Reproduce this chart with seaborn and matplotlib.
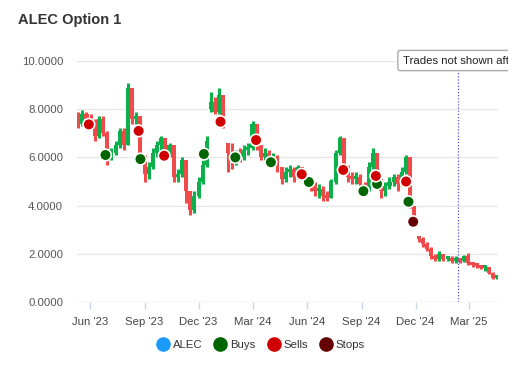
import pandas as pd
import seaborn as sns
import matplotlib.pyplot as plt
from matplotlib.lines import Line2D
from matplotlib.patches import Rectangle

# Weekly OHLC
week_start = '2023-05-12'
opens = [7.7, 7.4, 7.8, 7.6, 7.4, 6.9, 7.6, 7.0, 6.0, 6.2,
         6.5, 7.1, 6.5, 8.9, 7.6, 7.7, 6.1, 5.3, 5.6, 6.2,
         6.5, 6.8, 6.1, 6.5, 5.2, 5.3, 5.9, 4.6, 3.8, 4.4,
         5.0, 5.7, 8.0, 8.3, 7.9, 8.6, 6.6, 6.2, 5.8, 6.1,
         6.0, 6.3, 6.4, 7.4, 6.5, 6.0, 6.2, 5.9, 6.0, 5.6,
         5.1, 5.4, 5.5, 5.2, 5.6, 5.3, 5.0, 4.9, 4.6, 4.7,
         4.4, 4.3, 5.0, 6.2, 6.8, 5.6, 5.2, 5.1, 5.2, 4.9,
         4.7, 5.6, 6.2, 5.1, 4.6, 4.8, 5.0, 5.2, 4.9, 5.4,
         6.0, 4.0, 2.75, 2.6, 2.4, 2.2, 1.9, 1.8, 2.0, 1.8,
         1.8, 1.7, 1.8, 1.7, 1.9, 1.6, 1.55, 1.5, 1.4, 1.45,
         1.2, 1.0]
closes = [7.4, 7.8, 7.6, 7.4, 6.9, 7.6, 7.0, 6.0, 6.2, 6.5,
          7.1, 6.5, 8.9, 7.6, 7.7, 6.1, 5.3, 5.6, 6.2, 6.5,
          6.8, 6.1, 6.5, 5.2, 5.3, 5.9, 4.6, 3.8, 4.4, 5.0,
          5.7, 6.7, 8.3, 7.9, 8.6, 7.4, 6.2, 5.8, 6.1, 6.0,
          6.3, 6.4, 7.4, 6.5, 6.0, 6.2, 5.9, 6.0, 5.6, 5.1,
          5.4, 5.5, 5.2, 5.6, 5.3, 5.0, 4.9, 4.6, 4.7, 4.4,
          4.3, 5.0, 6.2, 6.8, 5.6, 5.2, 5.1, 5.2, 4.9, 4.7,
          5.6, 6.2, 5.1, 4.6, 4.8, 5.0, 5.2, 4.9, 5.4, 6.0,
          4.0, 3.6, 2.6, 2.4, 2.2, 1.9, 1.8, 2.0, 1.8, 1.8,
          1.7, 1.8, 1.7, 1.9, 1.6, 1.55, 1.5, 1.4, 1.45, 1.2,
          1.0, 1.05]
highs = [7.9, 7.95, 7.9, 7.8, 7.6, 7.7, 7.7, 7.1, 6.4, 6.7,
         7.2, 7.2, 9.1, 8.9, 7.9, 7.7, 6.1, 5.8, 6.4, 6.7,
         6.9, 6.8, 6.6, 6.5, 5.5, 6.0, 5.9, 4.6, 4.6, 5.2,
         5.9, 6.9, 8.7, 8.5, 8.9, 8.6, 6.6, 6.6, 6.3, 6.4,
         6.5, 6.6, 7.5, 7.4, 6.5, 6.4, 6.3, 6.2, 6.1, 5.6,
         5.6, 5.7, 5.6, 5.7, 5.6, 5.3, 5.1, 5.0, 4.9, 4.8,
         4.6, 5.1, 6.3, 6.9, 6.8, 5.7, 5.4, 5.4, 5.3, 5.0,
         5.8, 6.4, 6.2, 5.1, 5.0, 5.2, 5.3, 5.3, 5.6, 6.1,
         6.0, 4.0, 2.75, 2.7, 2.5, 2.3, 2.0, 2.1, 2.0, 1.9,
         1.9, 1.9, 1.8, 1.95, 2.05, 1.65, 1.6, 1.55, 1.5, 1.45,
         1.25, 1.1]
lows = [7.2, 7.3, 7.4, 7.2, 6.7, 6.8, 6.9, 5.7, 5.9, 6.1,
        6.4, 6.3, 6.5, 7.4, 7.4, 5.9, 5.0, 5.1, 5.5, 6.0,
        6.3, 6.0, 6.0, 5.0, 5.0, 5.2, 4.1, 3.6, 3.7, 4.3,
        4.9, 5.6, 7.9, 7.8, 7.8, 7.2, 5.4, 5.5, 5.7, 5.8,
        5.9, 6.1, 6.3, 6.3, 5.9, 5.9, 5.8, 5.8, 5.4, 4.9,
        5.0, 5.2, 5.0, 5.1, 5.1, 4.8, 4.6, 4.4, 4.3, 4.2,
        4.2, 4.3, 4.9, 6.1, 5.4, 5.0, 4.9, 4.9, 4.7, 4.5,
        4.6, 5.5, 4.9, 4.3, 4.4, 4.7, 4.8, 4.6, 4.8, 5.3,
        3.9, 3.5, 2.5, 2.3, 2.1, 1.8, 1.7, 1.7, 1.7, 1.7,
        1.6, 1.6, 1.6, 1.65, 1.55, 1.45, 1.4, 1.35, 1.3, 1.15,
        0.95, 0.95]

# Trades
buy_dates = ['2023-06-27', '2023-08-25', '2023-12-10', '2024-02-01', '2024-04-01',
             '2024-06-04', '2024-09-04', '2024-09-27', '2024-11-19']
buy_prices = [6.10, 5.93, 6.14, 6.00, 5.80, 4.98, 4.60, 4.90, 4.16]
sell_dates = ['2023-05-30', '2023-08-22', '2023-10-04', '2024-01-07', '2024-03-07',
              '2024-05-23', '2024-08-01', '2024-09-25', '2024-11-15']
sell_prices = [7.37, 7.10, 6.07, 7.48, 6.72, 5.30, 5.48, 5.23, 5.00]
stop_dates = ['2024-11-27']
stop_prices = [3.33]

cutoff_date = '2025-02-10'
tick_dates = ['2023-06-01', '2023-09-01', '2023-12-01', '2024-03-01',
              '2024-06-01', '2024-09-01', '2024-12-01', '2025-03-01']
tick_labels = ["Jun '23", "Sep '23", "Dec '23", "Mar '24",
               "Jun '24", "Sep '24", "Dec '24", "Mar '25"]
y_ticks = [0, 2, 4, 6, 8, 10]

sns.set_theme(style='white')
plt.rcParams['font.family'] = ['Liberation Sans', 'DejaVu Sans']

candles = pd.DataFrame({
    'date': pd.date_range(week_start, periods=len(closes), freq='7D'),
    'open': opens, 'close': closes, 'high': highs, 'low': lows,
})
candles['color'] = ['#0cb04a' if c >= o else '#ef4b4b' for o, c in zip(opens, closes)]
candles['bottom'] = candles[['open', 'close']].min(axis=1)
candles['height'] = (candles['close'] - candles['open']).abs().clip(lower=0.12)

trades = pd.concat([
    pd.DataFrame({'date': pd.to_datetime(buy_dates), 'price': buy_prices, 'kind': 'Buys'}),
    pd.DataFrame({'date': pd.to_datetime(sell_dates), 'price': sell_prices, 'kind': 'Sells'}),
    pd.DataFrame({'date': pd.to_datetime(stop_dates), 'price': stop_prices, 'kind': 'Stops'}),
])
colors = {'ALEC': '#1a9bfc', 'Buys': '#006400', 'Sells': '#d00000', 'Stops': '#660000'}

fig = plt.figure(figsize=(5.3, 3.8), dpi=100)
ax = fig.add_axes([77 / 530, 1 - 302 / 380, 421 / 530, 241 / 380])

for spine in ax.spines.values():
    spine.set_visible(False)
ax.axhline(0, color='#ccd6eb', lw=1, zorder=1)
for v in y_ticks[1:]:
    ax.axhline(v, color='#e6e6e6', lw=1, zorder=0)

# candles: thick wicks + bodies so the band looks as dense as the original
ax.vlines(candles['date'], candles['low'], candles['high'], colors=candles['color'],
          lw=2.2, zorder=2)
ax.bar(candles['date'], candles['height'], bottom=candles['bottom'], width=6.8,
       color=candles['color'], linewidth=0, zorder=2)

sns.scatterplot(data=trades, x='date', y='price', hue='kind', palette=colors,
                s=70, edgecolor='white', linewidth=1.2, ax=ax, legend=False, zorder=4)

cut = pd.Timestamp(cutoff_date)
ax.axvline(cut, ymin=0, ymax=(302 - 70) / 241, color='#5555cc', lw=0.9,
           linestyle=(0, (1, 1.5)), zorder=3)

# label box, clipped at the chart container's right edge like the reference
clip_box = Rectangle((0, 0), 508 / 530, 1, transform=fig.transFigure, visible=False)
fig.add_artist(clip_box)
note = fig.text(403 / 530, 1 - 60.5 / 380, 'Trades not shown after 2025-02-10',
                fontsize=8.2, color='#222222', va='center', ha='left',
                bbox=dict(boxstyle='round,pad=0.45,rounding_size=0.2', fc='white',
                          ec='#aaaaaa', lw=1))
note.set_clip_path(clip_box)
note.get_bbox_patch().set_clip_path(clip_box)

ax.set_xlim(pd.Timestamp('2023-05-10'), pd.Timestamp('2025-04-19'))
ax.set_ylim(0, 10)
ax.set_xticks(pd.to_datetime(tick_dates))
ax.set_xticklabels(tick_labels)
ax.set_yticks(y_ticks)
ax.set_yticklabels([f'{v:.4f}' for v in y_ticks])
ax.tick_params(axis='y', length=0, pad=10, labelsize=8.2, labelcolor='#555555')
ax.tick_params(axis='x', length=5, width=1, color='#ccd6eb', pad=6,
               labelsize=8.2, labelcolor='#444444', bottom=True)
ax.set_xlabel('')
ax.set_ylabel('')

fig.text(18 / 530, 1 - 20 / 380, 'ALEC Option 1', fontsize=10.5, fontweight='bold',
         color='#333333', va='center', ha='left')

handles = [Line2D([], [], marker='o', linestyle='', markersize=9.5,
                  markerfacecolor=c, markeredgecolor=c, label=k) for k, c in colors.items()]
leg = fig.legend(handles=handles, loc='center', bbox_to_anchor=(261 / 530, 1 - 345 / 380),
                 ncol=4, frameon=False, fontsize=8.2, handlelength=1.0, handletextpad=0.35,
                 columnspacing=1.1, borderpad=0)
for t in leg.get_texts():
    t.set_color('#333333')

fig.savefig('out.png', dpi=100)
